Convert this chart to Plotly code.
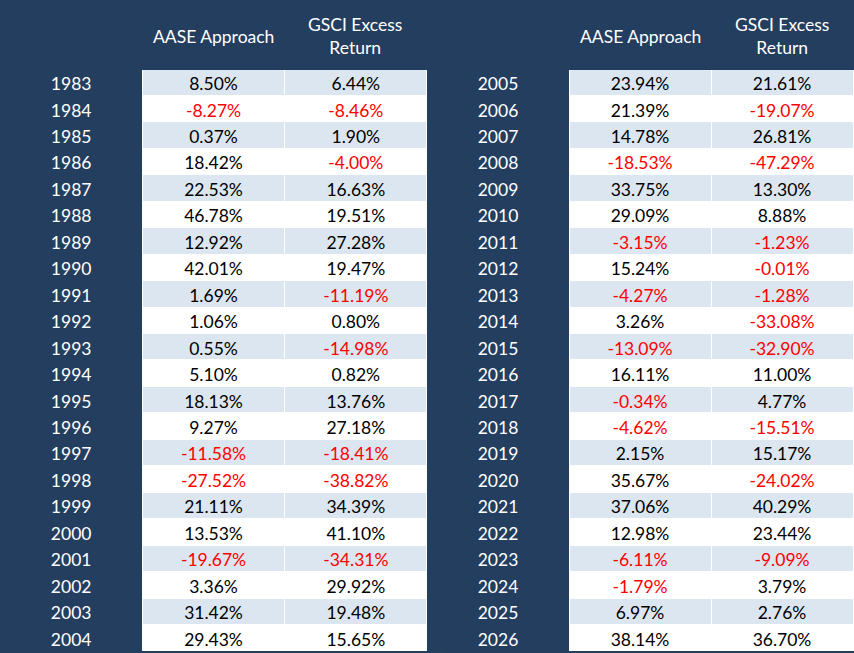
import plotly.graph_objects as go

years_left = [str(y) for y in range(1983, 2005)]
aase_left = [8.50, -8.27, 0.37, 18.42, 22.53, 46.78, 12.92, 42.01, 1.69, 1.06, 0.55,
             5.10, 18.13, 9.27, -11.58, -27.52, 21.11, 13.53, -19.67, 3.36, 31.42, 29.43]
gsci_left = [6.44, -8.46, 1.90, -4.00, 16.63, 19.51, 27.28, 19.47, -11.19, 0.80, -14.98,
             0.82, 13.76, 27.18, -18.41, -38.82, 34.39, 41.10, -34.31, 29.92, 19.48, 15.65]

years_right = [str(y) for y in range(2005, 2027)]
aase_right = [23.94, 21.39, 14.78, -18.53, 33.75, 29.09, -3.15, 15.24, -4.27, 3.26, -13.09,
              16.11, -0.34, -4.62, 2.15, 35.67, 37.06, 12.98, -6.11, -1.79, 6.97, 38.14]
gsci_right = [21.61, -19.07, 26.81, -47.29, 13.30, 8.88, -1.23, -0.01, -1.28, -33.08, -32.90,
              11.00, 4.77, -15.51, 15.17, -24.02, 40.29, 23.44, -9.09, 3.79, 2.76, 36.70]

col_headers = ["AASE Approach", "GSCI Excess<br>Return"]

NAVY = "#243E5F"
LIGHT = "#DCE6F1"
WHITE = "#FFFFFF"
RED = "#FF0000"
FONT = "Lato"
FS = 17.5

W, H = 854, 653
HEADER_H = 69
ROW_H = 26.45


def fmt(v):
    return f"{v:.2f}%"


def make_table(years, a, g, x0, x1):
    n = len(years)
    band = [LIGHT if i % 2 == 0 else WHITE for i in range(n)]
    return go.Table(
        domain=dict(x=[x0, x1], y=[0, 1]),
        columnwidth=[142, 142, 142],
        header=dict(values=["", "", ""], fill_color=NAVY, line_color=NAVY,
                    height=HEADER_H, font=dict(color=WHITE, size=FS, family=FONT)),
        cells=dict(
            values=[years, [fmt(v) for v in a], [fmt(v) for v in g]],
            fill_color=[[NAVY] * n, band, band],
            line_color=[NAVY, WHITE, WHITE],
            line_width=1,
            align="center",
            height=ROW_H,
            font=dict(
                family=FONT, size=FS,
                color=[[WHITE] * n,
                       [RED if v < 0 else "black" for v in a],
                       [RED if v < 0 else "black" for v in g]],
            ),
        ),
    )


fig = go.Figure()
fig.add_trace(make_table(years_left, aase_left, gsci_left, 0, 427 / W))
fig.add_trace(make_table(years_right, aase_right, gsci_right, 427 / W, 853 / W))

annos = []
for base in (0, 427):
    for k, txt in enumerate(col_headers):
        cx = base + 142 * (k + 1) + 71
        annos.append(dict(text=txt, x=cx / W, y=1 - 36 / H, xref="paper", yref="paper",
                          xanchor="center", yanchor="middle", showarrow=False,
                          font=dict(color=WHITE, size=FS, family=FONT)))

fig.update_layout(width=W, height=H, margin=dict(l=0, r=0, t=0, b=0),
                  paper_bgcolor=NAVY, plot_bgcolor=NAVY, annotations=annos)

fig.write_html("out.html", config={"displayModeBar": False},
               post_script="document.body.style.margin='0';document.body.style.background='" + NAVY + "';")
